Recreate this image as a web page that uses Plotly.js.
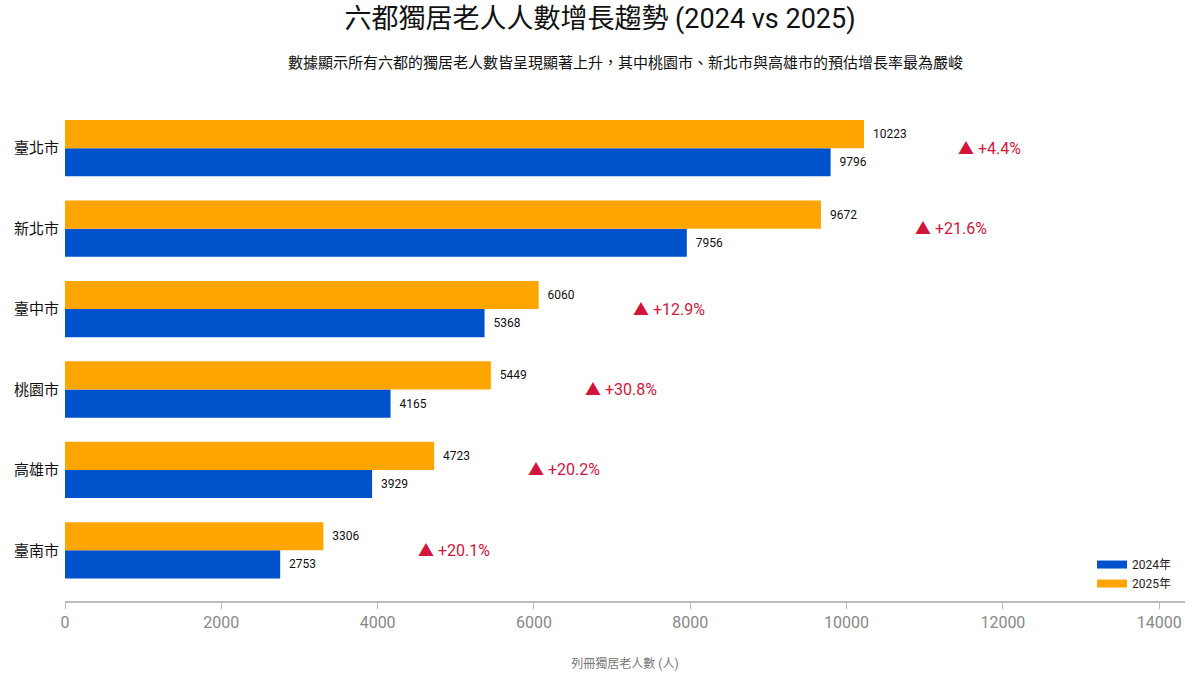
<!DOCTYPE html>
<html>
<head>
<meta charset="utf-8">
<script src="https://cdn.plot.ly/plotly-3.0.1.min.js"></script>
<style>html,body{margin:0;padding:0;background:#fff;}#chart{width:1200px;height:675px;}</style>
</head>
<body>
<div id="chart"></div>
<script>
// Cities, listed bottom to top on the category axis
const cities = ['臺南市', '高雄市', '桃園市', '臺中市', '新北市', '臺北市'];
const elderly2024 = [2753, 3929, 4165, 5368, 7956, 9796];
const elderly2025 = [3306, 4723, 5449, 6060, 9672, 10223];
const seriesNames = ['2024年', '2025年'];
const xTicks = [0, 2000, 4000, 6000, 8000, 10000, 12000, 14000];

const FONT = 'Roboto, "Noto Sans CJK TC", sans-serif';
const BLUE = '#0052CC';
const ORANGE = '#FFA500';
const RED = '#D3153B';
const PAD = '\u00A0\u00A0';

function barTrace(values, name, color) {
  return {
    type: 'bar', orientation: 'h', name: name,
    y: cities, x: values,
    marker: {color: color},
    text: values.map(v => PAD + v), textposition: 'outside',
    textfont: {size: 12, color: '#111', family: FONT},
    cliponaxis: false, hoverinfo: 'x+name', showlegend: false
  };
}

// Legend-only entries drawn as wide flat swatches
function legendKey(name, color) {
  return {
    type: 'scatter', mode: 'lines', name: name,
    x: [null], y: [null],
    line: {color: color, width: 8},
    hoverinfo: 'skip', showlegend: true
  };
}

const traces = [
  barTrace(elderly2024, seriesNames[0], BLUE),
  barTrace(elderly2025, seriesNames[1], ORANGE),
  legendKey(seriesNames[0], BLUE),
  legendKey(seriesNames[1], ORANGE)
];

// Growth labels placed to the right of each city's 2025 bar
const growthNotes = cities.map((c, i) => {
  const pct = (elderly2025[i] - elderly2024[i]) / elderly2024[i] * 100;
  return {
    x: elderly2025[i] + 1180, y: c, xref: 'x', yref: 'y',
    xanchor: 'left', yanchor: 'middle', showarrow: false,
    text: '▲ +' + pct.toFixed(1) + '%',
    font: {size: 16, color: RED, family: FONT}
  };
});

const layout = {
  width: 1200, height: 675,
  paper_bgcolor: '#fff', plot_bgcolor: '#fff',
  font: {family: FONT, color: '#222'},
  margin: {l: 65, r: 15, t: 108, b: 74},
  barmode: 'group', bargap: 0.3, bargroupgap: 0,
  title: {
    text: '六都獨居老人人數增長趨勢 (2024 vs 2025)',
    x: 0.5, xanchor: 'center', y: 0.973, yanchor: 'middle',
    font: {size: 27, color: '#111', family: FONT}
  },
  xaxis: {
    range: [0, 14330], tickvals: xTicks, ticktext: xTicks.map(String),
    showgrid: false, zeroline: false,
    showline: true, linecolor: '#bbb', linewidth: 2,
    ticks: 'outside', ticklen: 6, tickcolor: '#bbb', tickwidth: 1,
    tickfont: {size: 16, color: '#888', family: FONT},
    title: {text: '列冊獨居老人數 (人)', standoff: 28, font: {size: 12, color: '#777', family: FONT}}
  },
  yaxis: {
    type: 'category', range: [-0.63, 5.5],
    showgrid: false, zeroline: false, showline: false,
    ticks: '', ticklabelstandoff: 5,
    tickfont: {size: 15, color: '#111', family: FONT}
  },
  legend: {
    x: 0.992, y: 0.006, xanchor: 'right', yanchor: 'bottom',
    traceorder: 'normal', bgcolor: 'rgba(0,0,0,0)',
    font: {size: 12, color: '#222', family: FONT}
  },
  annotations: [
    {
      text: '數據顯示所有六都的獨居老人數皆呈現顯著上升，其中桃園市、新北市與高雄市的預估增長率最為嚴峻',
      xref: 'paper', yref: 'paper', x: 0.5, y: 1, yshift: 45,
      xanchor: 'center', yanchor: 'middle', showarrow: false,
      font: {size: 15, color: '#111', family: FONT}
    }
  ].concat(growthNotes)
};

Plotly.newPlot('chart', traces, layout, {displayModeBar: false, responsive: false});
</script>
</body>
</html>
